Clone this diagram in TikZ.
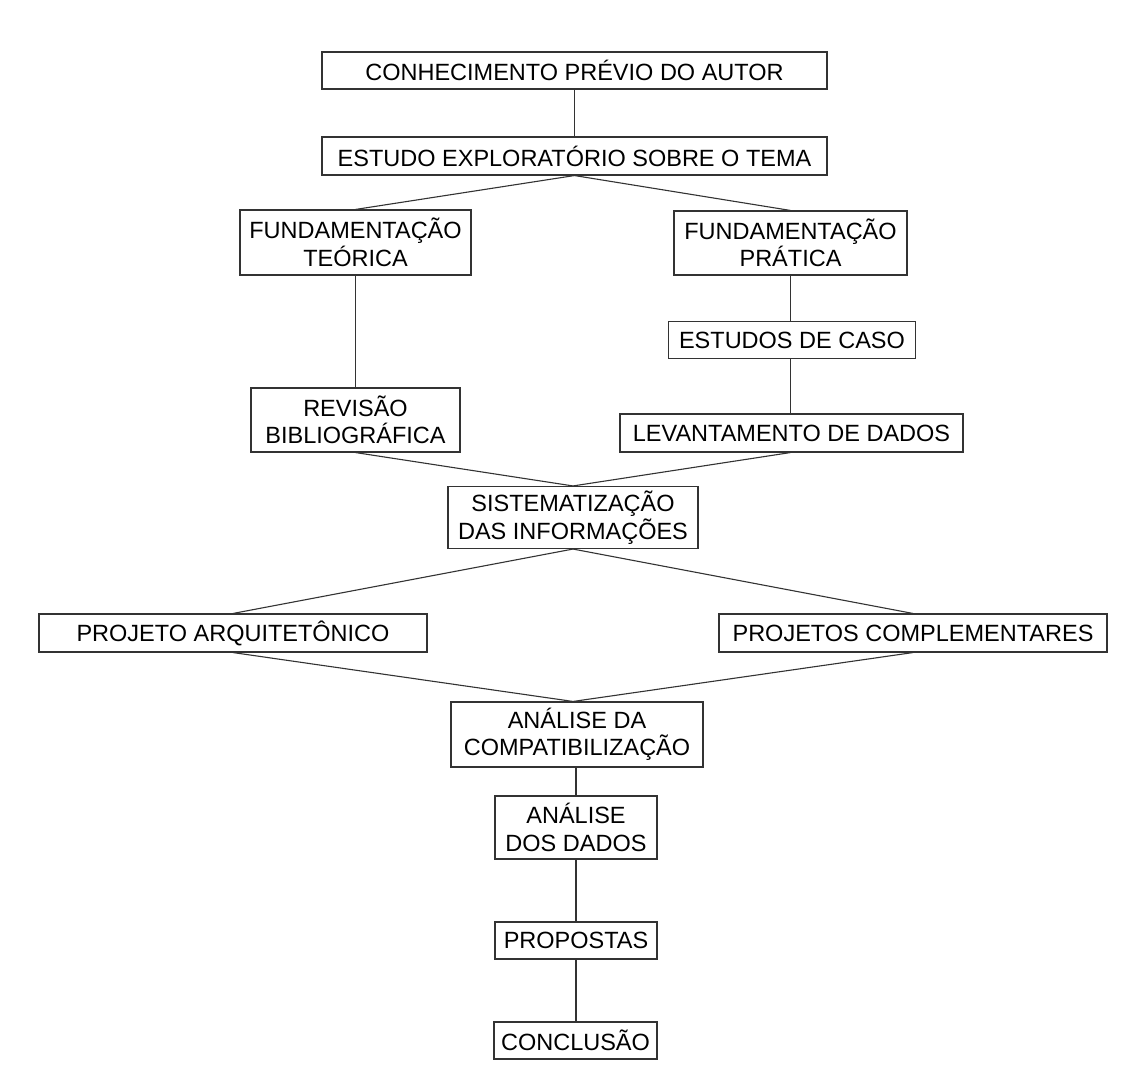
\documentclass[tikz,border=0pt]{standalone}
\usepackage{fontspec}
\setmainfont{Liberation Sans}
\begin{document}
\begin{tikzpicture}[x=1pt,y=-1pt,
  box/.style={draw=black!80, line width=1.1pt, fill=white, inner sep=0pt,
    align=center, font=\fontsize{23.5}{27.5}\selectfont},
  link/.style={draw=black!80, line width=1.1pt}]
\fill[white] (0,0) rectangle (1130,1075);
\useasboundingbox (0,0) rectangle (1130,1075);

\node[box, minimum width=505pt, minimum height=37pt] (n1) at (574.5,70.5) {CONHECIMENTO PRÉVIO DO AUTOR};
\node[box, minimum width=505pt, minimum height=38pt] (n2) at (574.5,156) {ESTUDO EXPLORATÓRIO SOBRE O TEMA};
\node[box, minimum width=231pt, minimum height=65pt] (n3) at (355.5,242.5) {FUNDAMENTAÇÃO\\TEÓRICA};
\node[box, minimum width=233pt, minimum height=64pt] (n4) at (790.5,243) {FUNDAMENTAÇÃO\\PRÁTICA};
\node[box, minimum width=247pt, minimum height=37pt] (n5) at (792,340) {ESTUDOS DE CASO};
\node[box, minimum width=209pt, minimum height=64pt] (n6) at (355.5,420) {REVISÃO\\BIBLIOGRÁFICA};
\node[box, minimum width=343pt, minimum height=38pt] (n7) at (791.5,433) {LEVANTAMENTO DE DADOS};
\node[box, minimum width=250pt, minimum height=62pt] (n8) at (573,517.5) {SISTEMATIZAÇÃO\\DAS INFORMAÇÕES};
\node[box, minimum width=388pt, minimum height=38pt] (n9) at (233,633) {PROJETO ARQUITETÔNICO};
\node[box, minimum width=388pt, minimum height=38pt] (n10) at (913,633) {PROJETOS COMPLEMENTARES};
\node[box, minimum width=252pt, minimum height=65pt] (n11) at (577,734.5) {ANÁLISE DA\\COMPATIBILIZAÇÃO};
\node[box, minimum width=162pt, minimum height=63pt] (n12) at (576,827.5) {ANÁLISE\\DOS DADOS};
\node[box, minimum width=162pt, minimum height=37pt] (n13) at (576,940.5) {PROPOSTAS};
\node[box, minimum width=163pt, minimum height=37pt] (n14) at (575.5,1040.5) {CONCLUSÃO};

\draw[link] (n1.south) -- (n2.north);
\draw[link] (n2.south) -- (n3.north);
\draw[link] (n2.south) -- (n4.north);
\draw[link] (n3.south) -- (n6.north);
\draw[link] (n4.south) -- (n5.north -| n4.south);
\draw[link] (n5.south -| n4.south) -- (n7.north -| n4.south);
\draw[link] (n6.south) -- (n8.north);
\draw[link] (n7.south -| n4.south) -- (n8.north);
\draw[link] (n8.south) -- (n9.north);
\draw[link] (n8.south) -- (n10.north);
\draw[link] (n9.south) -- (n11.north -| n8.south);
\draw[link] (n10.south) -- (n11.north -| n8.south);
\draw[link] (n11.south -| n12.north) -- (n12.north);
\draw[link] (n12.south) -- (n13.north);
\draw[link] (n13.south) -- (n14.north -| n13.south);
\end{tikzpicture}
\end{document}
